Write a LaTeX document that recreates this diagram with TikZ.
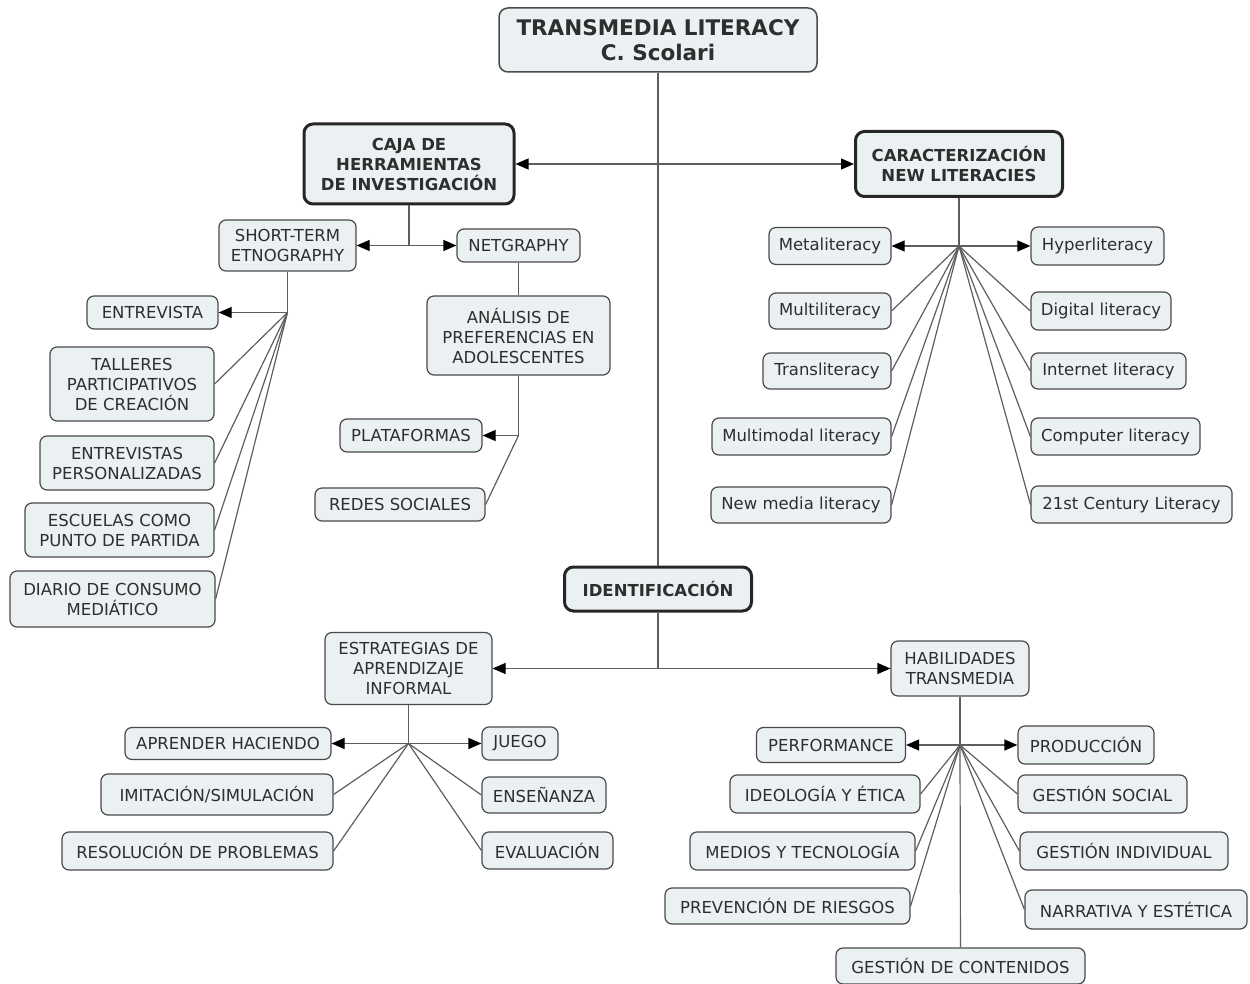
\documentclass[tikz,border=0pt]{standalone}
\usepackage{fontspec}
\setmainfont{DejaVu Sans}
\usetikzlibrary{arrows.meta}
\definecolor{boxfill}{HTML}{EBF0F2}
\definecolor{boxline}{HTML}{4A4A4A}
\definecolor{linkline}{HTML}{5E5E5E}

\begin{document}
\begin{tikzpicture}[x=1pt,y=-1pt,
  concept/.style={draw=boxline, fill=boxfill, rounded corners=7pt, line width=1.2pt,
    align=center, inner sep=1pt, text=black!82,
    font=\fontsize{16.5}{20}\selectfont},
  keyconcept/.style={concept, line width=3pt, rounded corners=9pt, draw=black!85,
    font=\fontsize{16.5}{20}\selectfont\bfseries},
  sz/.style 2 args={minimum width=#1pt, minimum height=#2pt},
  link/.style={draw=linkline, line width=1.2pt},
  arr/.style={link, -{Triangle[length=13pt,width=11pt,color=black]}}
]
\useasboundingbox (0,0) rectangle (1250,984);

% ---- top level ----
\node[concept, sz={318}{64}, line width=1.5pt, rounded corners=9pt,
      font=\fontsize{21.5}{25}\selectfont\bfseries] (title) at (658,40)
      {TRANSMEDIA LITERACY\\C. Scolari};
\node[keyconcept, sz={210}{80}] (caja) at (409,164) {CAJA DE\\HERRAMIENTAS\\DE INVESTIGACIÓN};
\node[keyconcept, sz={207}{65}] (caract) at (959,164) {CARACTERIZACIÓN\\NEW LITERACIES};
\node[keyconcept, sz={187}{44}] (ident) at (658,589) {IDENTIFICACIÓN};

% ---- research toolbox ----
\node[concept, sz={137}{51}] (ste) at (287.5,245.5) {SHORT-TERM\\ETNOGRAPHY};
\node[concept, sz={123}{33}] (netg) at (518.5,245.5) {NETGRAPHY};
\node[concept, sz={183}{79}] (anal) at (518.5,335.5) {ANÁLISIS DE\\PREFERENCIAS EN\\ADOLESCENTES};
\node[concept, sz={142}{33}] (plat) at (411,435.5) {PLATAFORMAS};
\node[concept, sz={170}{33}] (redes) at (400,504.5) {REDES SOCIALES};
\node[concept, sz={131}{33}] (entrev) at (152.5,312.5) {ENTREVISTA};
\node[concept, sz={164}{74}] (talleres) at (132,384) {TALLERES\\PARTICIPATIVOS\\DE CREACIÓN};
\node[concept, sz={174}{54}] (entrevp) at (127,463) {ENTREVISTAS\\PERSONALIZADAS};
\node[concept, sz={189}{54}] (escuelas) at (119.5,530) {ESCUELAS COMO\\PUNTO DE PARTIDA};
\node[concept, sz={205}{56}] (diario) at (112.5,599) {DIARIO DE CONSUMO\\MEDIÁTICO};

% ---- new literacies ----
\node[concept, sz={122}{37}] (meta) at (830,246) {Metaliteracy};
\node[concept, sz={122}{36}] (multi) at (830,311) {Multiliteracy};
\node[concept, sz={128}{36}] (trans) at (827,371) {Transliteracy};
\node[concept, sz={179}{37}] (multim) at (801.5,436.5) {Multimodal literacy};
\node[concept, sz={180}{36}] (newm) at (801,505) {New media literacy};
\node[concept, sz={133}{38}] (hyper) at (1097.5,246) {Hyperliteracy};
\node[concept, sz={140}{38}] (digital) at (1101,311) {Digital literacy};
\node[concept, sz={155}{36}] (internet) at (1108.5,371) {Internet literacy};
\node[concept, sz={169}{37}] (computer) at (1115.5,436.5) {Computer literacy};
\node[concept, sz={201}{37}] (century) at (1131.5,504.5) {21st Century Literacy};

% ---- identification ----
\node[concept, sz={167}{72}] (estr) at (408.5,668.5) {ESTRATEGIAS DE\\APRENDIZAJE\\INFORMAL};
\node[concept, sz={138}{55}] (habil) at (960,668.5) {HABILIDADES\\TRANSMEDIA};

\node[concept, sz={206}{32}] (aprender) at (228,743.5) {APRENDER HACIENDO};
\node[concept, sz={232}{41}] (imit) at (217,794.5) {IMITACIÓN/SIMULACIÓN};
\node[concept, sz={271}{38}] (resol) at (197.5,851) {RESOLUCIÓN DE PROBLEMAS};
\node[concept, sz={76}{33}] (juego) at (520,743.5) {JUEGO};
\node[concept, sz={124}{36}] (ense) at (544,795) {ENSEÑANZA};
\node[concept, sz={131}{37}] (eval) at (547.5,850.5) {EVALUACIÓN};

\node[concept, sz={149}{35}] (perf) at (831,745) {PERFORMANCE};
\node[concept, sz={136}{38}] (prod) at (1086,745) {PRODUCCIÓN};
\node[concept, sz={190}{38}] (ideo) at (825,794) {IDEOLOGÍA Y ÉTICA};
\node[concept, sz={169}{38}] (gsocial) at (1102.5,794) {GESTIÓN SOCIAL};
\node[concept, sz={225}{38}] (medios) at (802.5,851) {MEDIOS Y TECNOLOGÍA};
\node[concept, sz={208}{38}] (gindiv) at (1124,851) {GESTIÓN INDIVIDUAL};
\node[concept, sz={245}{36}] (prev) at (787.5,906) {PREVENCIÓN DE RIESGOS};
\node[concept, sz={222}{39}] (narr) at (1136,909.5) {NARRATIVA Y ESTÉTICA};
\node[concept, sz={249}{36}] (gcont) at (960.5,966) {GESTIÓN DE CONTENIDOS};

% ---- link junctions ----
\coordinate (j0) at (658,164);
\coordinate (j1) at (409,245.5);
\coordinate (j3) at (518.5,435.5);
\coordinate (j4) at (287.5,312.5);
\coordinate (j5) at (959,246);
\coordinate (j6) at (658,668.5);
\coordinate (j7) at (408.5,743.5);
\coordinate (j8) at (960,745);

% ---- connectors ----
\draw[link] (title) -- (j0) -- (ident);
\draw[arr] (j0) -- (caja);
\draw[arr] (j0) -- (caract);

\draw[link] (caja) -- (j1);
\draw[arr] (j1) -- (ste);
\draw[arr] (j1) -- (netg);
\draw[link] (netg) -- (anal);
\draw[link] (anal) -- (j3);
\draw[arr] (j3) -- (plat);
\draw[link] (j3) -- (redes.east);

\draw[link] (ste) -- (j4);
\draw[arr] (j4) -- (entrev);
\foreach \n in {talleres,entrevp,escuelas,diario}
  \draw[link] (j4) -- (\n.east);

\draw[link] (caract) -- (j5);
\draw[arr] (j5) -- (meta);
\draw[arr] (j5) -- (hyper);
\foreach \n in {multi,trans,multim,newm}
  \draw[link] (j5) -- (\n.east);
\foreach \n in {digital,internet,computer,century}
  \draw[link] (j5) -- (\n.west);

\draw[link] (ident) -- (j6);
\draw[arr] (j6) -- (estr);
\draw[arr] (j6) -- (habil);

\draw[link] (estr) -- (j7);
\draw[arr] (j7) -- (aprender);
\draw[arr] (j7) -- (juego);
\foreach \n in {imit,resol}
  \draw[link] (j7) -- (\n.east);
\foreach \n in {ense,eval}
  \draw[link] (j7) -- (\n.west);

\draw[link] (habil) -- (j8);
\draw[arr] (j8) -- (perf);
\draw[arr] (j8) -- (prod);
\draw[link] (j8) -- (gcont);
\foreach \n in {ideo,medios,prev}
  \draw[link] (j8) -- (\n.east);
\foreach \n in {gsocial,gindiv,narr}
  \draw[link] (j8) -- (\n.west);
\end{tikzpicture}
\end{document}
